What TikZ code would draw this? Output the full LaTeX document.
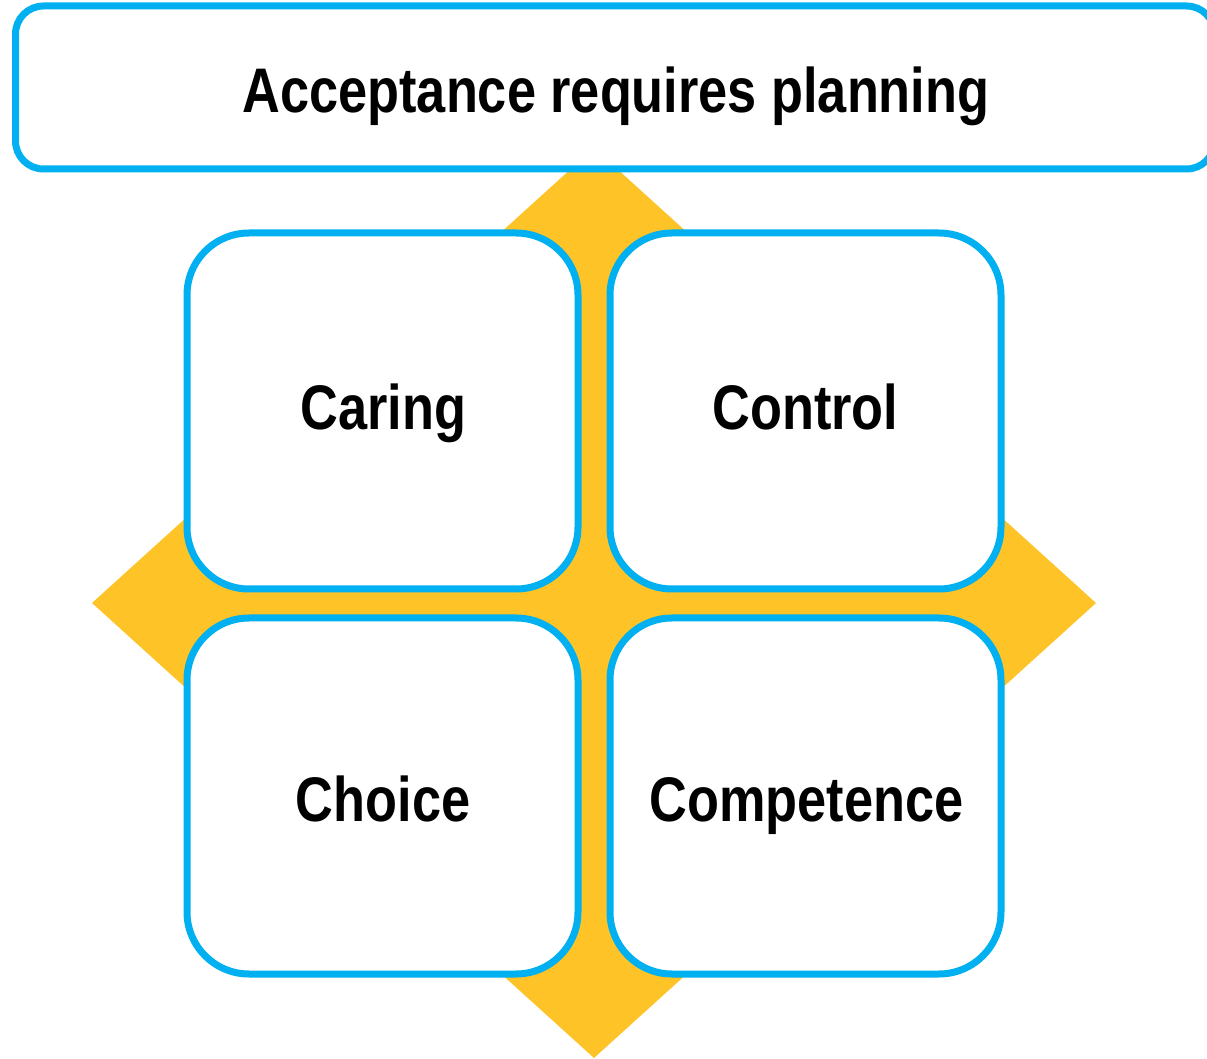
\documentclass[tikz,border=0pt]{standalone}
\usepackage{fontspec}
\setmainfont{Liberation Sans}[FakeStretch=0.83]
\definecolor{bluel}{RGB}{0,176,240}
\definecolor{yell}{RGB}{254,195,38}
\begin{document}
\begin{tikzpicture}[x=0.5pt,y=-0.5pt,
  card/.style={draw=bluel, line width=3.5pt, fill=white, rounded corners=31pt,
    minimum width=195.5pt, minimum height=178pt, inner sep=0pt},
  banner/.style={draw=bluel, line width=3.5pt, fill=white, rounded corners=14pt,
    minimum width=599.5pt, minimum height=81.5pt, inner sep=0pt},
  lbl/.style={anchor=base, inner sep=0pt, font=\bfseries\fontsize{31.5}{36}\selectfont}]
\useasboundingbox (0,0) rectangle (1207,1059);
\clip (0,0) rectangle (1207,1059);
\fill[yell] (594,148) -- (1096,603) -- (594,1058) -- (92,603) -- cycle;
\node[card] (caring) at (382.5,411) {};
\node[card] (control) at (805.5,411) {};
\node[card] (choice) at (382.5,796) {};
\node[card] (comp) at (805.5,796) {};
\node[banner] (top) at (615,87.5) {};
\node[lbl] (title) at (616,113) {Acceptance requires planning};
\node[lbl] (tcaring) at (383.5,430) {Caring};
\node[lbl] (tcontrol) at (805.5,430) {Control};
\node[lbl] (tchoice) at (383,821) {Choice};
\node[lbl] (tcomp) at (806.5,821) {Competence};
\end{tikzpicture}
\end{document}
